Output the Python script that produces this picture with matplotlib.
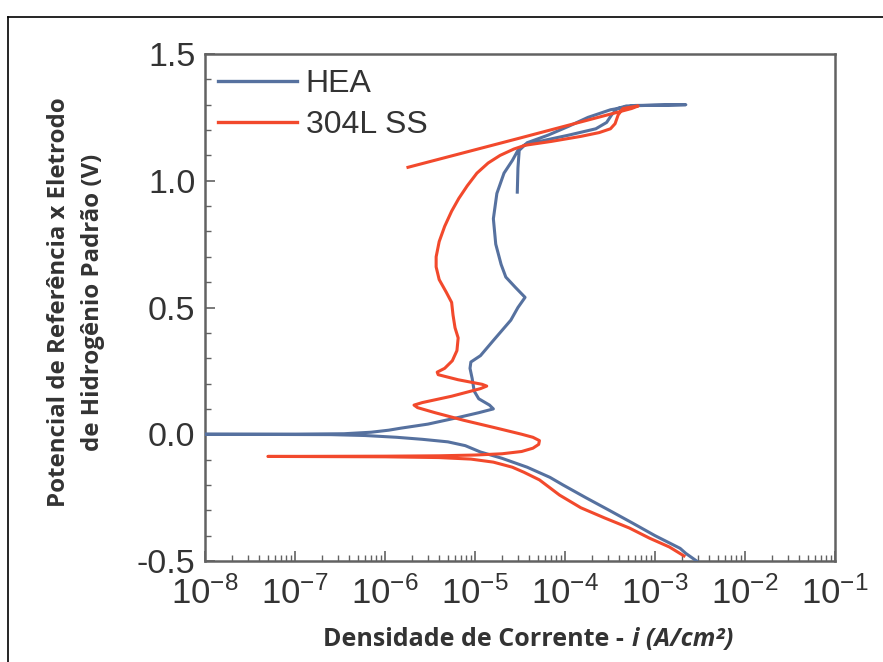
import numpy as np
import matplotlib
matplotlib.use("Agg")
import matplotlib.pyplot as plt
from matplotlib.lines import Line2D
from matplotlib.ticker import FixedLocator, FixedFormatter, LogLocator, MultipleLocator, NullFormatter

# ---------------- data (E in V vs SHE, i in A/cm2) ----------------
hea_E = [-0.50, -0.47, -0.45, -0.40, -0.35, -0.30, -0.25, -0.20, -0.17, -0.13, -0.095, -0.07,
         -0.045, -0.03, -0.02, -0.012, -0.005, -0.0015, 0.0, 0.0005, 0.002, 0.008, 0.016, 0.024,
         0.04, 0.065, 0.085, 0.10, 0.115, 0.14, 0.17, 0.22, 0.26, 0.285, 0.31, 0.37, 0.45, 0.50,
         0.54, 0.58, 0.62, 0.67, 0.75, 0.85, 0.95, 1.03, 1.08, 1.12, 1.14, 1.16, 1.18, 1.205,
         1.23, 1.26, 1.285, 1.295, 1.298, 1.30,
         1.297, 1.28, 1.25, 1.215, 1.18, 1.15, 1.12, 1.05, 0.955]
hea_i = [2.9e-3, 2.2e-3, 1.9e-3, 1.0e-3, 5.6e-4, 3.1e-4, 1.7e-4, 9.5e-5, 6.8e-5, 3.8e-5, 2.0e-5, 1.15e-5,
         7.8e-6, 5.0e-6, 2.6e-6, 1.35e-6, 6e-7, 2.5e-7, 1e-8, 1e-7, 3.5e-7, 7e-7, 1.1e-6, 1.5e-6,
         3.0e-6, 6.3e-6, 1.1e-5, 1.6e-5, 1.45e-5, 1.1e-5, 9.8e-6, 9.3e-6, 8.8e-6, 9.0e-6, 1.15e-5, 1.6e-5, 2.5e-5, 3.0e-5,
         3.6e-5, 2.8e-5, 2.2e-5, 1.95e-5, 1.7e-5, 1.6e-5, 1.75e-5, 2.1e-5, 2.6e-5, 3.0e-5, 3.5e-5, 6.0e-5, 1.1e-4, 2.2e-4,
         2.9e-4, 3.3e-4, 3.8e-4, 4.8e-4, 1.0e-3, 2.2e-3,
         6.0e-4, 3.2e-4, 1.8e-4, 1.1e-4, 6.5e-5, 3.8e-5, 3.1e-5, 3.0e-5, 2.95e-5]

ss_E = [-0.48, -0.445, -0.41, -0.37, -0.33, -0.29, -0.24, -0.18, -0.15, -0.13, -0.11, -0.098,
        -0.092, -0.089, -0.0875, -0.0865, -0.085, -0.082, -0.077, -0.068, -0.055, -0.04, -0.025,
        -0.012, 0.0, 0.025, 0.055, 0.085, 0.105, 0.115, 0.125, 0.15, 0.18, 0.19, 0.197, 0.215,
        0.235, 0.245, 0.26, 0.29, 0.33, 0.38, 0.42, 0.47, 0.52, 0.56, 0.61, 0.66, 0.70, 0.76,
        0.82, 0.88, 0.93, 0.98, 1.03, 1.07, 1.10, 1.125, 1.14, 1.155, 1.175, 1.19, 1.205, 1.225,
        1.26, 1.285, 1.295,
        1.285, 1.169, 1.053]
ss_i = [2.1e-3, 1.45e-3, 8.7e-4, 5.2e-4, 2.75e-4, 1.5e-4, 8.7e-5, 5.2e-5, 3.5e-5, 2.6e-5, 1.6e-5, 9e-6,
        4e-6, 1e-6, 5e-8, 1e-6, 4e-6, 1.0e-5, 2.0e-5, 3.3e-5, 4.4e-5, 5.1e-5, 5.2e-5,
        4.4e-5, 3.3e-5, 1.7e-5, 7.5e-6, 3.6e-6, 2.3e-6, 2.1e-6, 2.6e-6, 5.5e-6, 1.15e-5, 1.35e-5, 1.2e-5, 6.5e-6,
        3.9e-6, 3.8e-6, 4.6e-6, 5.6e-6, 6.3e-6, 6.5e-6, 6.0e-6, 5.7e-6, 5.5e-6, 4.8e-6, 4.0e-6, 3.7e-6, 3.7e-6, 4.0e-6,
        4.6e-6, 5.5e-6, 6.6e-6, 8.2e-6, 1.05e-5, 1.4e-5, 1.9e-5, 2.7e-5, 3.6e-5, 7e-5, 1.5e-4, 2.4e-4, 3.2e-4, 3.6e-4,
        3.9e-4, 4.4e-4, 6.5e-4,
        5.5e-4, 3.2e-5, 1.8e-6]

series_names = ["HEA", "304L SS"]
x_tick_vals = [1e-8, 1e-7, 1e-6, 1e-5, 1e-4, 1e-3, 1e-2, 1e-1]
x_tick_labels = [r"$\mathregular{10^{-8}}$", r"$\mathregular{10^{-7}}$", r"$\mathregular{10^{-6}}$",
                 r"$\mathregular{10^{-5}}$", r"$\mathregular{10^{-4}}$", r"$\mathregular{10^{-3}}$",
                 r"$\mathregular{10^{-2}}$", r"$\mathregular{10^{-1}}$"]
y_tick_vals = [-0.5, 0.0, 0.5, 1.0, 1.5]
y_tick_labels = ["-0.5", "0.0", "0.5", "1.0", "1.5"]

# ---------------- fonts ----------------
plt.rcParams["font.family"] = ["Liberation Sans", "DejaVu Sans"]
plt.rcParams["mathtext.fontset"] = "custom"
plt.rcParams["mathtext.rm"] = "Liberation Sans"
plt.rcParams["mathtext.it"] = "Liberation Sans:italic"
plt.rcParams["mathtext.bf"] = "Liberation Sans:bold"

W, H = 883, 662
fig = plt.figure(figsize=(W / 100, H / 100), dpi=100)
ax = fig.add_axes([205 / W, 1 - 561 / H, (835 - 205) / W, (561 - 54) / H])

blue = "#56719f"
red = "#f2492c"
ax.plot(hea_i, hea_E, color=blue, lw=2.2, label=series_names[0], zorder=3,
        solid_joinstyle="round")
ax.plot(ss_i, ss_E, color=red, lw=2.2, label=series_names[1], zorder=4,
        solid_joinstyle="round")

ax.set_xscale("log")
ax.set_xlim(1e-8, 1e-1)
ax.set_ylim(-0.5, 1.5)

spine_c = "#626262"
for s in ["left", "bottom", "top", "right"]:
    ax.spines[s].set_color(spine_c)
    ax.spines[s].set_linewidth(1.8)

ax.xaxis.set_major_locator(FixedLocator(x_tick_vals))
ax.xaxis.set_major_formatter(FixedFormatter(x_tick_labels))
ax.xaxis.set_minor_locator(LogLocator(base=10, subs=np.arange(2, 10), numticks=20))
ax.xaxis.set_minor_formatter(NullFormatter())
ax.yaxis.set_major_locator(FixedLocator(y_tick_vals))
ax.yaxis.set_major_formatter(FixedFormatter(y_tick_labels))
ax.yaxis.set_minor_locator(MultipleLocator(0.1))

ax.tick_params(axis="both", which="both", direction="in", top=False, right=False, color=spine_c)
ax.tick_params(axis="both", which="major", length=7, width=1.2)
ax.tick_params(axis="both", which="minor", length=4, width=1.0)
ax.tick_params(axis="y", which="major", labelsize=24.5, labelcolor="#333333", pad=7)
ax.tick_params(axis="x", which="major", labelsize=25, labelcolor="#333333", pad=11)

leg = ax.legend(loc="upper left", bbox_to_anchor=(-0.0143, 1.014), frameon=False, fontsize=23,
                handlelength=2.45, handletextpad=0.28, labelspacing=0.33, borderaxespad=0.3)
for t in leg.get_texts():
    t.set_color("#333333")
for h in leg.get_lines():
    h.set_linewidth(2.4)

# axis labels
lab_font = dict(family=["Open Sans", "DejaVu Sans"], weight="bold", color="#333333")
fig.text(59 / W, 1 - 302 / H, "Potencial de Referência x Eletrodo", rotation=90,
         ha="center", va="center", fontsize=17.3, **lab_font)
fig.text(93 / W, 1 - 302 / H, "de Hidrogênio Padrão (V)", rotation=90,
         ha="center", va="center", fontsize=17.3, **lab_font)
fig.text(630 / W, 1 - 639 / H, "Densidade de Corrente - ", ha="right", va="center",
         fontsize=18, **lab_font)
fig.text(632 / W, 1 - 639 / H, "i (A/cm²)", ha="left", va="center", style="italic",
         fontsize=18, **lab_font)

# outer frame (page border)
fig.add_artist(Line2D([8 / W, 8 / W], [0, 1 - 17 / H], transform=fig.transFigure, color="black", lw=1.2))
fig.add_artist(Line2D([8 / W, 1], [1 - 17 / H, 1 - 17 / H], transform=fig.transFigure, color="black", lw=1.2))

fig.savefig("out.png", dpi=100)
